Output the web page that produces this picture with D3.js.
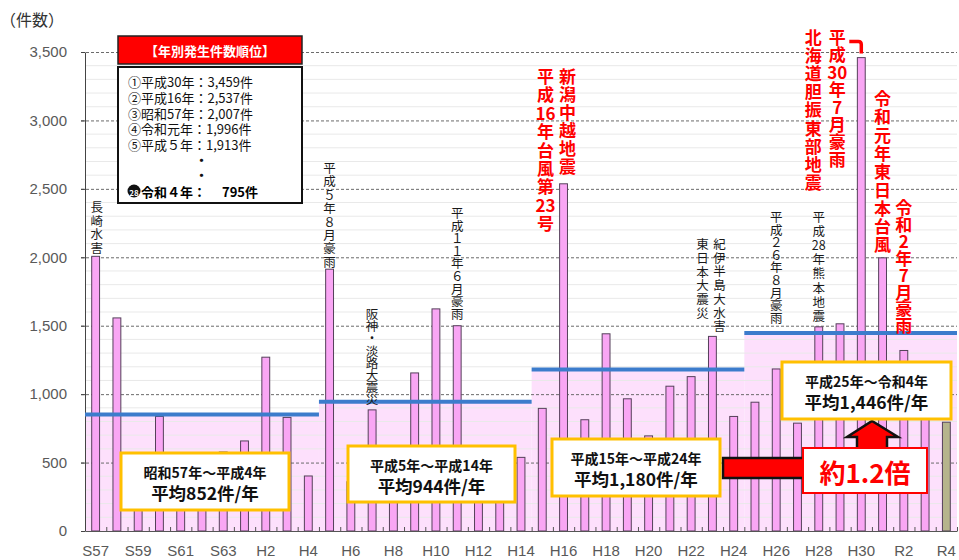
<!DOCTYPE html>
<html lang="ja">
<head>
<meta charset="utf-8">
<title>土砂災害発生件数の推移</title>
<script src="https://cdn.jsdelivr.net/npm/d3@7"></script>
<style>
  body { margin: 0; background: #fff; }
  svg { display: block; font-family: "Noto Sans CJK JP", sans-serif; }
  .num text, text.num { font-family: "Liberation Sans", Arial, sans-serif; }
</style>
</head>
<body>
<div id="chart"></div>
<script>
// data
var years = ["S57","S58","S59","S60","S61","S62","S63",
  "H1","H2","H3","H4","H5","H6","H7","H8","H9","H10","H11","H12","H13","H14",
  "H15","H16","H17","H18","H19","H20","H21","H22","H23","H24",
  "H25","H26","H27","H28","H29","H30","R1","R2","R3","R4"];
var counts = [2007,1557,443,837,387,404,577,658,1270,830,402,
  1913,360,885,480,1155,1623,1500,496,490,538,
  896,2537,813,1441,966,695,1058,1128,1422,837,
  941,1184,788,1492,1514,3459,1996,1319,972,795];
var yTicks = [0,500,1000,1500,2000,2500,3000,3500];
var xTickLabels = years.filter(function(d, i) { return i % 2 === 0; });

var periodFirst = ["S57","H5","H15","H25"];
var periodLast = ["H4","H14","H24","R4"];
var periodAvg = [852, 944, 1180, 1446];
var periodRange = ["昭和57年～平成4年","平成5年～平成14年","平成15年～平成24年","平成25年～令和4年"];
var periodText = ["平均852件/年","平均944件/年","平均1,180件/年","平均1,446件/年"];

var rankTitle = "【年別発生件数順位】";
var rankLines = ["①平成30年：3,459件","②平成16年：2,537件","③昭和57年：2,007件","④令和元年：1,996件","⑤平成５年：1,913件"];
var rankLast = ["28", "令和４年：", "795件"];

// event notes: anchoring year, text, highlighted or not
var notes = [
  {year:"S57", text:"長崎水害", red:false},
  {year:"H5", text:"平成５年８月豪雨", red:false},
  {year:"H7", text:"阪神・淡路大震災", red:false},
  {year:"H11", text:"平成１１年６月豪雨", red:false},
  {year:"H16", text:"平成16年台風第23号", red:true},
  {year:"H16", text:"新潟中越地震", red:true},
  {year:"H23", text:"東日本大震災", red:false},
  {year:"H23", text:"紀伊半島大水害", red:false},
  {year:"H26", text:"平成２６年８月豪雨", red:false},
  {year:"H28", text:"平成28年熊本地震", red:false},
  {year:"H30", text:"北海道胆振東部地震", red:true},
  {year:"H30", text:"平成30年7月豪雨", red:true},
  {year:"R1", text:"令和元年東日本台風", red:true},
  {year:"R2", text:"令和2年7月豪雨", red:true}
];
// where each note column sits (offset from bar centre, first cell y, cell step)
var noteLayout = [
  {dx:1, y:206, step:13.7},
  {dx:0, y:167, step:13.4},
  {dx:0, y:313, step:12.2},
  {dx:0, y:212, step:12.6},
  {dx:-18, y:75, step:18.4},
  {dx:4, y:75, step:18},
  {dx:-10, y:243, step:13.8},
  {dx:7, y:243, step:13.7},
  {dx:0, y:216, step:12.6},
  {dx:0, y:216, step:14.1},
  {dx:-48, y:36, step:18.1},
  {dx:-24, y:36, step:17.4},
  {dx:0, y:97, step:18.3},
  {dx:0, y:206, step:16.9}
];
var boxLayout = [
  {x:121, y:453, w:168, h:57},
  {x:348, y:446, w:167, h:56},
  {x:552, y:439, w:168, h:57},
  {x:782, y:362, w:169, h:57}
];

var width = 959, height = 560;
var plotLeft = 85, plotRight = 957, plotTop = 52, plotBottom = 531;

var svg = d3.select("#chart").append("svg")
  .attr("width", width)
  .attr("height", height);

var x = d3.scaleBand()
  .domain(years)
  .range([plotLeft, plotRight])
  .paddingInner(0.63)
  .paddingOuter(0.315);
var y = d3.scaleLinear()
  .domain([0, 3500])
  .range([plotBottom, plotTop]);

var gap = (x.step() - x.bandwidth()) / 2;
function periodStart(i) { return x(periodFirst[i]) - gap; }
function periodEnd(i) { return x(periodLast[i]) + x.bandwidth() + gap; }

//pink period areas
svg.append("g").selectAll("rect")
  .data(periodAvg)
  .enter().append("rect")
  .attr("x", function(d, i) { return periodStart(i); })
  .attr("y", function(d) { return y(d); })
  .attr("width", function(d, i) { return periodEnd(i) - periodStart(i); })
  .attr("height", function(d) { return y(0) - y(d); })
  .style("fill", "#fde0fc");

//minor grid every 100
svg.append("g").selectAll("line")
  .data(d3.range(100, 3500, 100).filter(function(d) { return d % 500 !== 0; }))
  .enter().append("line")
  .attr("x1", plotLeft).attr("x2", plotRight)
  .attr("y1", function(d) { return y(d); })
  .attr("y2", function(d) { return y(d); })
  .style("stroke", "#e9e9e9")
  .style("stroke-width", 1);

//major dashed grid
svg.append("g").selectAll("line")
  .data(yTicks.slice(1))
  .enter().append("line")
  .attr("x1", plotLeft - 4).attr("x2", plotRight)
  .attr("y1", function(d) { return y(d) + 0.5; })
  .attr("y2", function(d) { return y(d) + 0.5; })
  .style("stroke", "#6b6b6b")
  .style("stroke-dasharray", "3,2")
  .style("stroke-width", 1);

//bars
svg.append("g").selectAll("rect")
  .data(counts)
  .enter().append("rect")
  .attr("x", function(d, i) { return x(years[i]); })
  .attr("y", function(d) { return y(d); })
  .attr("width", x.bandwidth())
  .attr("height", function(d) { return y(0) - y(d); })
  .style("fill", function(d, i) { return i === years.length - 1 ? "#b6b48c" : "#f9a6f4"; })
  .style("stroke", "#55405a")
  .style("stroke-width", 1);

//axes
var yAxis = svg.append("g")
  .attr("class", "num")
  .attr("transform", "translate(" + plotLeft + ",0)")
  .call(d3.axisLeft(y).tickValues(yTicks).tickSize(4).tickSizeOuter(0).tickPadding(14).tickFormat(d3.format(",")));
yAxis.select(".domain").style("stroke", "#444");
yAxis.selectAll(".tick line").style("stroke", "#444");
yAxis.selectAll("text").style("font-size", "15px").style("fill", "#595959");

var idx = d3.scaleLinear().domain([0, years.length]).range([plotLeft, plotRight]);
var minor = svg.append("g")
  .attr("transform", "translate(0," + plotBottom + ")")
  .call(d3.axisBottom(idx).tickValues(d3.range(1, years.length + 1)).tickSize(-4).tickSizeOuter(0).tickFormat(""));
minor.select(".domain").style("stroke", "#555").style("stroke-width", 1.2);
minor.selectAll(".tick line").style("stroke", "#555");

var xAxis = svg.append("g")
  .attr("class", "num")
  .attr("transform", "translate(0," + plotBottom + ")")
  .call(d3.axisBottom(x).tickValues(xTickLabels).tickSize(0).tickPadding(14));
xAxis.select(".domain").remove();
xAxis.selectAll("text").style("font-size", "15px").style("fill", "#595959");

svg.append("text")
  .attr("x", 0)
  .attr("y", 26)
  .style("font-size", "16px")
  .style("fill", "#333")
  .text("（件数）");

//average lines
svg.append("g").selectAll("line")
  .data(periodAvg)
  .enter().append("line")
  .attr("x1", function(d, i) { return periodStart(i); })
  .attr("x2", function(d, i) { return periodEnd(i); })
  .attr("y1", function(d) { return y(d); })
  .attr("y2", function(d) { return y(d); })
  .style("stroke", "#3c7ccc")
  .style("stroke-width", 4);

//vertical notes: one text each, one tspan per cell (digit pairs kept together)
function cells(s) { return s.match(/[0-9]+|./g); }
notes.forEach(function(n, k) {
  var lay = noteLayout[k];
  var cx = x(n.year) + x.bandwidth() / 2 + lay.dx;
  svg.append("text")
    .attr("text-anchor", "middle")
    .attr("dominant-baseline", "central")
    .style("font-size", n.red ? "17px" : "12.5px")
    .style("font-weight", n.red ? 700 : 400)
    .style("fill", n.red ? "#ff0000" : "#1a1a1a")
    .selectAll("tspan")
    .data(cells(n.text))
    .enter().append("tspan")
    .attr("x", cx)
    .attr("y", function(d, i) { return lay.y + i * lay.step; })
    .text(function(d) { return d; });
});

// hook from the H30 note to its bar
var h30 = x("H30") + x.bandwidth() / 2;
svg.append("path")
  .attr("d", "M" + (h30 - 12) + "," + (y(3459) - 16) + "H" + (h30 - 3) + "Q" + h30 + "," + (y(3459) - 16) + " " + h30 + "," + (y(3459) - 13) + "V" + (y(3459) - 4))
  .style("fill", "none")
  .style("stroke", "#ff0000")
  .style("stroke-width", 3.5);

//ranking legend
svg.append("rect")
  .attr("x", 118).attr("y", 36).attr("width", 184).attr("height", 28)
  .style("fill", "#ff0000").style("stroke", "#222").style("stroke-width", 1.5);
svg.append("text")
  .attr("x", 210).attr("y", 50)
  .attr("text-anchor", "middle").attr("dominant-baseline", "central")
  .style("font-size", "13px").style("font-weight", 700).style("fill", "#fff")
  .text(rankTitle);
svg.append("rect")
  .attr("x", 118).attr("y", 67).attr("width", 184).attr("height", 136)
  .style("fill", "#fff").style("stroke", "#111").style("stroke-width", 2);
var rank = svg.append("text")
  .attr("dominant-baseline", "central")
  .style("font-size", "13px")
  .style("fill", "#111");
rank.selectAll("tspan")
  .data(rankLines.concat(["・", "・"]))
  .enter().append("tspan")
  .attr("x", function(d, i) { return i < rankLines.length ? 128 : 195; })
  .attr("y", function(d, i) { return i < rankLines.length ? 81 + i * 15.8 : 159 + (i - rankLines.length) * 15; })
  .style("font-weight", function(d, i) { return i < rankLines.length ? 400 : 700; })
  .text(function(d) { return d; });
svg.append("circle").attr("cx", 134).attr("cy", 191).attr("r", 6.5).style("fill", "#111");
var last = svg.append("text")
  .attr("dominant-baseline", "central")
  .style("font-size", "13px").style("font-weight", 700);
last.append("tspan")
  .attr("x", 134).attr("y", 191.5)
  .attr("text-anchor", "middle")
  .style("font-size", "8px").style("fill", "#fff")
  .text(rankLast[0]);
last.append("tspan")
  .attr("x", 141).attr("y", 191)
  .text(rankLast[1]);
last.append("tspan")
  .attr("x", 222).attr("y", 191)
  .text(rankLast[2]);

//arrow from the last period box to the current one
var ar = "M723,458H857V437H847L872,421L898,437H887V478H723Z";
svg.append("path")
  .attr("d", ar)
  .style("fill", "#ff0000")
  .style("stroke", "#111")
  .style("stroke-width", 2.5)
  .style("stroke-linejoin", "miter");

//period average boxes
var boxes = svg.append("g").selectAll("g")
  .data(boxLayout)
  .enter().append("g");
boxes.append("rect")
  .attr("x", function(d) { return d.x; })
  .attr("y", function(d) { return d.y; })
  .attr("width", function(d) { return d.w; })
  .attr("height", function(d) { return d.h; })
  .style("fill", "#fff")
  .style("stroke", "#ffc000")
  .style("stroke-width", 3);
var boxText = boxes.append("text")
  .attr("text-anchor", "middle").attr("dominant-baseline", "central")
  .style("font-weight", 700).style("fill", "#111");
boxText.append("tspan")
  .attr("x", function(d) { return d.x + d.w / 2; })
  .attr("y", function(d) { return d.y + 18.5; })
  .style("font-size", "14px")
  .text(function(d, i) { return periodRange[i]; });
boxText.append("tspan")
  .attr("x", function(d) { return d.x + d.w / 2; })
  .attr("y", function(d) { return d.y + 39; })
  .style("font-size", "17.5px")
  .text(function(d, i) { return periodText[i]; });

//ratio label
svg.append("rect")
  .attr("x", 803).attr("y", 448).attr("width", 124).attr("height", 45)
  .style("fill", "#fff").style("stroke", "#ff0000").style("stroke-width", 2);
svg.append("text")
  .attr("x", 865).attr("y", 471)
  .attr("text-anchor", "middle").attr("dominant-baseline", "central")
  .style("font-size", "26px").style("font-weight", 700).style("fill", "#ff0000")
  .text("約" + (periodAvg[3] / periodAvg[2]).toFixed(1) + "倍");
</script>
</body>
</html>
